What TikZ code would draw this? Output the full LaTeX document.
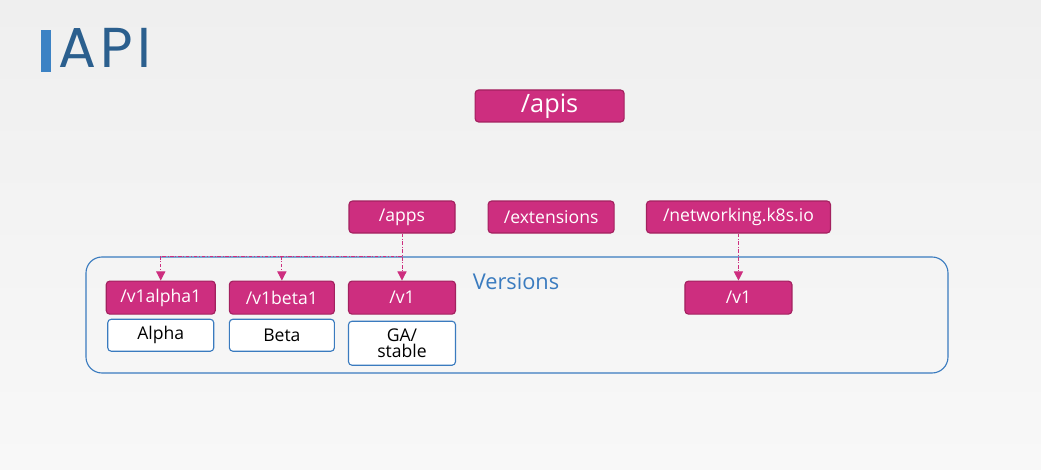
\documentclass[tikz,border=0pt]{standalone}
\usepackage{fontspec}
\setmainfont{Open Sans}
\newfontfamily\titlefont[LetterSpace=8]{Poppins}
\usetikzlibrary{positioning,arrows.meta}

\definecolor{grpfill}{HTML}{CD2E7F}
\definecolor{grpline}{HTML}{A3215F}
\definecolor{verblue}{HTML}{3A7BBF}
\definecolor{titleblue}{HTML}{2B5F8E}
\definecolor{barblue}{HTML}{3C82C4}
\definecolor{bgray}{HTML}{EFEFEF}
\definecolor{bgraylight}{HTML}{F8F8F8}

\begin{document}
\begin{tikzpicture}[
    api/.style={rectangle, draw=grpline, fill=grpfill, text=white, rounded corners=2.5pt, line width=0.8pt, minimum height=0.8cm, inner sep=0pt, font=\fontsize{12.5}{14}\selectfont},
    stage/.style={rectangle, draw=verblue, fill=white, rounded corners=2.5pt, line width=0.8pt, minimum height=0.8cm, inner sep=0pt, font=\fontsize{12.5}{14}\selectfont},
    link/.style={grpfill, line width=0.7pt, dash pattern=on 2.5pt off 1.2pt on 0.7pt off 1.2pt},
    arrow/.style={link, -{Triangle[length=6.5pt, width=6.5pt]}}
]

% background and margins
\shade[top color=bgray, bottom color=bgraylight] (0,0) rectangle (26.025,-11.75);
\useasboundingbox (0,0) rectangle (26.025,-11.75);

% title
\fill[barblue] (1.025,-0.75) rectangle (1.275,-1.8);
\node[anchor=west, text=titleblue, inner sep=0pt, font=\titlefont\fontsize{40}{44}\selectfont] (title) at (1.45,-1.2) {API};

% versions frame
\node[draw=verblue, line width=0.8pt, rounded corners=0.4cm, minimum width=21.55cm, minimum height=2.9cm] (versions) at (12.925,-7.875) {};
\node[text=verblue, font=\fontsize{15.5}{18}\selectfont] (verlabel) at (12.9,-7.05) {Versions};

% groups
\node[api, minimum width=3.725cm, font=\fontsize{18}{20}\selectfont] (apis) at (13.74,-2.65) {/apis};
\node[api, minimum width=2.65cm] (apps) at (10.05,-5.425) {/apps};
\node[api, right=0.8cm of apps, minimum width=3.15cm] (ext) {/extensions};
\node[api, right=0.78cm of ext, minimum width=4.6cm] (net) {/networking.k8s.io};

% versions
\node[api, below=1.175cm of apps, minimum width=2.675cm, minimum height=0.825cm] (appsv1) {/v1};
\node[api, left=0.325cm of appsv1, minimum width=2.625cm, minimum height=0.825cm] (beta1) {/v1beta1};
\node[api, left=0.325cm of beta1, minimum width=2.725cm, minimum height=0.825cm] (alpha1) {/v1alpha1};
\node[api, below=1.175cm of net, minimum width=2.675cm, minimum height=0.825cm] (netv1) {/v1};

% stages
\node[stage, below=0.1cm of alpha1, minimum width=2.65cm] (alpha) {Alpha};
\node[stage, below=0.1cm of beta1, minimum width=2.625cm] (beta) {Beta};
\node[stage, below=0.15cm of appsv1, minimum width=2.675cm, minimum height=1.1cm, align=center] (ga) {GA/\\[-2pt]stable};

% links
\coordinate (fork) at (0,-6.4);
\draw[arrow] (apps) -- (appsv1);
\draw[link] (apps.south |- fork) -- (alpha1.north |- fork);
\draw[arrow] (alpha1.north |- fork) -- (alpha1);
\draw[arrow] (beta1.north |- fork) -- (beta1);
\draw[arrow] (net) -- (netv1);

\end{tikzpicture}
\end{document}
